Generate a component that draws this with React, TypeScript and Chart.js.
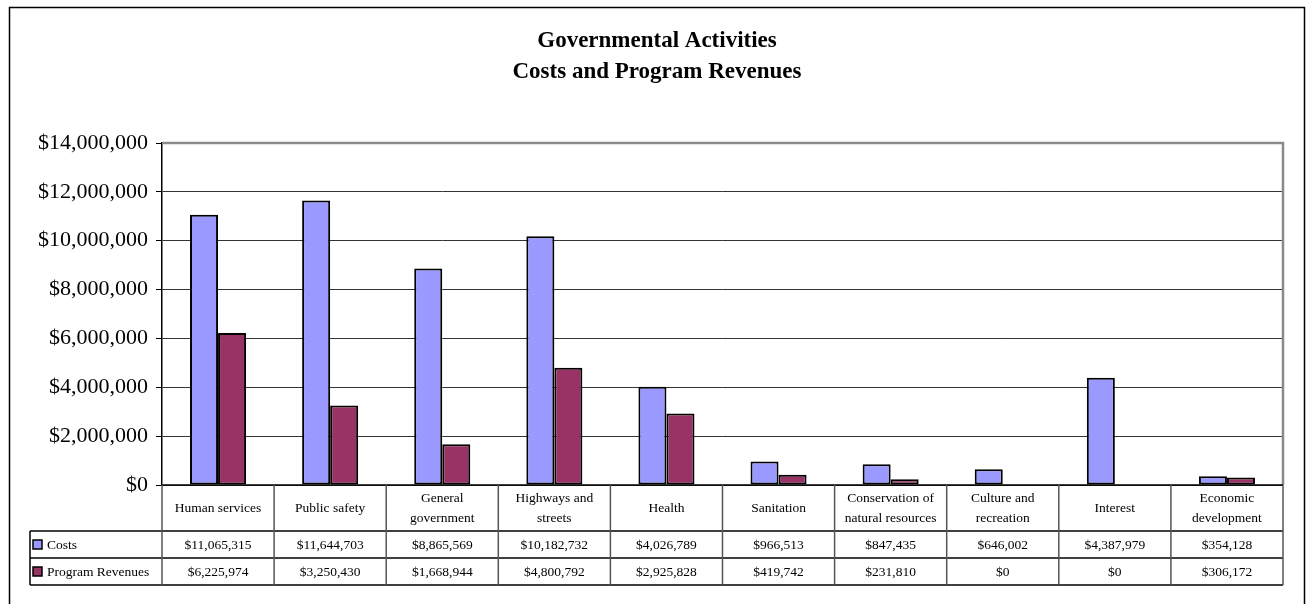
import React, { useEffect, useRef } from "react";
import { Chart, registerables } from "chart.js";

Chart.register(...registerables);

const titleLines = ["Governmental Activities", "Costs and Program Revenues"];
const categories: string[][] = [
  ["Human services"],
  ["Public safety"],
  ["General", "government"],
  ["Highways and", "streets"],
  ["Health"],
  ["Sanitation"],
  ["Conservation of", "natural resources"],
  ["Culture and", "recreation"],
  ["Interest"],
  ["Economic", "development"],
];
const seriesNames = ["Costs", "Program Revenues"];
const costs = [11065315, 11644703, 8865569, 10182732, 4026789, 966513, 847435, 646002, 4387979, 354128];
const revenues = [6225974, 3250430, 1668944, 4800792, 2925828, 419742, 231810, 0, 0, 306172];
const seriesColors = ["#9999FF", "#993366"];
const yMin = 0;
const yMax = 14000000;
const yStep = 2000000;

const FONT = "'Liberation Serif', 'Times New Roman', serif";
const money = (v: number) => "$" + Math.round(v).toLocaleString("en-US");

const tablePlugin = {
  id: "tablePlugin",
  afterDraw(chart: any) {
    const ctx = chart.ctx as CanvasRenderingContext2D;
    const x = chart.scales.x;
    const area = chart.chartArea;
    const n = categories.length;
    const w = (area.right - area.left) / n;
    const top = area.bottom;
    const r1 = top + 46;
    const r2 = r1 + 27;
    const r3 = r2 + 27;
    const legLeft = 30;
    ctx.save();

    // outer border
    ctx.strokeStyle = "#000";
    ctx.lineWidth = 1.5;
    ctx.strokeRect(9.5, 7.5, 1295, 640);

    // title
    ctx.fillStyle = "#000";
    ctx.textAlign = "center";
    ctx.textBaseline = "middle";
    ctx.font = `bold 23px ${FONT}`;
    ctx.fillText(titleLines[0], 657, 41);
    ctx.fillText(titleLines[1], 657, 72);

    // plot border (top & right) gray
    ctx.strokeStyle = "#8a8a8a";
    ctx.lineWidth = 2.5;
    ctx.beginPath();
    ctx.moveTo(area.left, area.top);
    ctx.lineTo(area.right, area.top);
    ctx.lineTo(area.right, area.bottom);
    ctx.stroke();

    // table lines
    ctx.strokeStyle = "#000";
    ctx.lineWidth = 1.5;
    ctx.beginPath();
    ctx.moveTo(area.left, top);
    ctx.lineTo(area.right, top);
    for (const yy of [r1, r2, r3]) {
      ctx.moveTo(legLeft, yy);
      ctx.lineTo(area.right, yy);
    }
    ctx.moveTo(legLeft, r1);
    ctx.lineTo(legLeft, r3);
    ctx.stroke();
    ctx.strokeStyle = "#555";
    ctx.lineWidth = 1.5;
    ctx.beginPath();
    for (let i = 0; i <= n; i++) {
      const xx = area.left + i * w;
      ctx.moveTo(xx, top);
      ctx.lineTo(xx, r3);
    }
    ctx.stroke();

    // header labels
    ctx.fillStyle = "#000";
    ctx.font = `13.5px ${FONT}`;
    ctx.textAlign = "center";
    ctx.textBaseline = "middle";
    const series = [costs, revenues];
    categories.forEach((lines, i) => {
      const cx = x.getPixelForValue(i);
      const mid = (top + r1) / 2;
      if (lines.length === 1) {
        ctx.fillText(lines[0], cx, mid);
      } else {
        ctx.fillText(lines[0], cx, mid - 10);
        ctx.fillText(lines[1], cx, mid + 10);
      }
      ctx.fillText(money(series[0][i]), cx, (r1 + r2) / 2 + 1);
      ctx.fillText(money(series[1][i]), cx, (r2 + r3) / 2 + 1);
    });

    // legend column
    const rows = [(r1 + r2) / 2, (r2 + r3) / 2];
    seriesNames.forEach((name, k) => {
      const cy = rows[k];
      ctx.fillStyle = seriesColors[k];
      ctx.fillRect(33, cy - 4.5, 9, 9);
      ctx.strokeStyle = "#000";
      ctx.lineWidth = 1.5;
      ctx.strokeRect(33, cy - 4.5, 9, 9);
      ctx.fillStyle = "#000";
      ctx.textAlign = "left";
      ctx.fillText(name, 47, cy + 1);
    });
    ctx.restore();
  },
};

export default function App() {
  const ref = useRef<HTMLCanvasElement | null>(null);
  useEffect(() => {
    document.body.style.margin = "0";
    if (!ref.current) return;
    const chart = new Chart(ref.current, {
      type: "bar",
      data: {
        labels: categories.map((c) => c.join(" ")),
        datasets: [
          {
            label: seriesNames[0],
            data: costs,
            backgroundColor: seriesColors[0],
            borderColor: "#000",
            borderWidth: 2,
            borderSkipped: false,
            categoryPercentage: 0.5,
            barPercentage: 1,
          },
          {
            label: seriesNames[1],
            data: revenues,
            backgroundColor: seriesColors[1],
            borderColor: "#000",
            borderWidth: 2,
            borderSkipped: false,
            categoryPercentage: 0.5,
            barPercentage: 1,
          },
        ],
      },
      options: {
        animation: false,
        responsive: false,
        devicePixelRatio: 1,
        layout: { padding: { left: 0, top: 143, right: 23, bottom: 119 } },
        plugins: { legend: { display: false }, title: { display: false }, tooltip: { enabled: false } },
        scales: {
          x: { display: false },
          y: {
            min: yMin,
            max: yMax,
            afterFit: (s: any) => {
              s.width = 162;
            },
            ticks: {
              stepSize: yStep,
              color: "#000",
              padding: 8,
              font: { family: FONT, size: 22 },
              callback: (v: any) => money(Number(v)),
            },
            grid: {
              color: "#333",
              lineWidth: 1,
              tickLength: 6,
              tickColor: "#000",
              drawTicks: true,
            },
            border: { display: true, color: "#000", width: 1.5 },
          },
        },
      },
      plugins: [tablePlugin],
    });
    return () => chart.destroy();
  }, []);
  return (
    <canvas
      ref={ref}
      width={1306}
      height={604}
      style={{ display: "block", position: "absolute", left: 0, top: 0, width: 1306, height: 604 }}
    />
  );
}
